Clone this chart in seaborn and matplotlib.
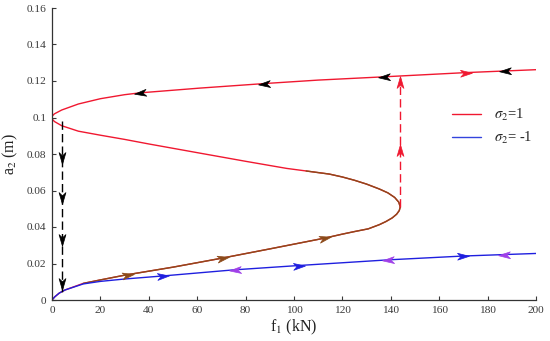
import numpy as np
import pandas as pd
import matplotlib
matplotlib.use('Agg')
import matplotlib.pyplot as plt
import seaborn as sns
from matplotlib.path import Path
from matplotlib.markers import MarkerStyle
from matplotlib.transforms import Affine2D

# sigma2 = 1 : lower branch, origin -> turning point
lower_f = [0, 1.2, 3, 5.4, 12.9, 20, 30, 50, 70.5, 90, 113, 120, 125, 130.7, 135.3,
           138, 140.6, 142.4, 143.5, 143.9]
lower_a = [0, 0.0018, 0.0038, 0.0055, 0.0091, 0.011, 0.0136, 0.0180, 0.023, 0.028,
           0.034, 0.0361, 0.0375, 0.039, 0.0413, 0.043, 0.045, 0.047, 0.049, 0.051]
# sigma2 = 1 : middle branch, turning point -> nose
middle_f = [143.9, 143.3, 141.6, 138.8, 135.3, 130, 125, 120, 114.6, 105, 97, 90, 80,
            61, 40, 30, 20, 10.9, 4, 1, 0.25, 0.05, 0]
middle_a = [0.051, 0.0536, 0.0562, 0.0587, 0.0608, 0.0635, 0.0656, 0.0674, 0.069,
            0.0707, 0.0721, 0.0737, 0.076, 0.0805, 0.0855, 0.088, 0.0903, 0.0925,
            0.0955, 0.0978, 0.0989, 0.0995, 0.1]
# sigma2 = 1 : upper branch, nose -> f = 200
upper_f = [0, 0.05, 0.25, 1, 4, 10.9, 20, 30, 36.3, 61, 87.8, 110, 137.3, 171, 200]
upper_a = [0.1, 0.1005, 0.101, 0.102, 0.1041, 0.1074, 0.1103, 0.1125, 0.1135, 0.1161,
           0.1186, 0.1205, 0.1223, 0.1246, 0.1262]
# sigma2 = -1
blue_f = [0, 1.2, 3, 5.4, 12.9, 20, 30, 46, 75, 102, 139, 170, 187, 200]
blue_a = [0, 0.0018, 0.0038, 0.0055, 0.0088, 0.0102, 0.0115, 0.0132, 0.0165, 0.0189,
          0.022, 0.0241, 0.0249, 0.0255]

# arrows along curves (f positions)
upper_left_f = [36.3, 87.8, 137.3, 187]
upper_right_f = [171]
lower_right_f = [31.5, 70.5, 113]
blue_right_f = [46, 102, 170]
blue_left_f = [75.5, 138.7, 186.8]
# jumps
jump_down_f, jump_down_a = 4, [0.098, 0.004]
jump_down_heads = [0.0776, 0.056, 0.033, 0.0085]
jump_up_f, jump_up_a = 144, [0.051, 0.1215]
jump_up_heads = [0.082, 0.1195]

xticks = [0, 20, 40, 60, 80, 100, 120, 140, 160, 180, 200]
yticks = [0, 0.02, 0.04, 0.06, 0.08, 0.1, 0.12, 0.14, 0.16]
ytick_labels = ['0', '0.02', '0.04', '0.06', '0.08', '0.1', '0.12', '0.14', '0.16']

RED = '#f01830'
BLUE = '#1f1fdf'
BROWN = '#8c4a1a'
PURPLE = '#a040e8'

sns.set_theme(style='white')
plt.rcParams['font.family'] = ['Liberation Serif', 'DejaVu Serif']
plt.rcParams['mathtext.fontset'] = 'stix'

fig = plt.figure(figsize=(5.5, 3.41), dpi=100)
ax = fig.add_axes([52 / 550, 1 - 300 / 341, 484 / 550, 292 / 341])

red_df = pd.DataFrame({'f': lower_f + middle_f[1:] + upper_f[1:],
                       'a': lower_a + middle_a[1:] + upper_a[1:]})
blue_df = pd.DataFrame({'f': blue_f, 'a': blue_a})
brown_df = pd.DataFrame({'f': [f for f in lower_f if f >= 8] + [f for f in middle_f[1:] if f >= 100],
                         'a': [a for f, a in zip(lower_f, lower_a) if f >= 8] +
                              [a for f, a in zip(middle_f[1:], middle_a[1:]) if f >= 100]})

sns.lineplot(data=red_df, x='f', y='a', sort=False, estimator=None, color=RED, lw=1, ax=ax)
sns.lineplot(data=brown_df, x='f', y='a', sort=False, estimator=None, color=BROWN, lw=1, ax=ax)
sns.lineplot(data=blue_df, x='f', y='a', sort=False, estimator=None, color=BLUE, lw=1, ax=ax)

ax.plot([jump_down_f] * 2, jump_down_a, color='black', ls=(0, (6, 3)), lw=1)
ax.plot([jump_up_f] * 2, jump_up_a, color=RED, ls=(0, (6, 3)), lw=1)

ax.set_xlim(0, 200)
ax.set_ylim(0, 0.16)
ax.set_xticks(xticks)
ax.set_xticklabels([str(t) for t in xticks])
ax.set_yticks(yticks)
ax.set_yticklabels(ytick_labels)
ax.tick_params(direction='in', length=3, width=0.8, labelsize=8.2, colors='#3a3a3a',
               bottom=True, left=True, pad=4)
sns.despine(ax=ax)
for s in ['left', 'bottom']:
    ax.spines[s].set_color('#333333')
    ax.spines[s].set_linewidth(0.9)
ax.set_xlabel('f$_1$ (kN)', fontsize=11.5, color='#222222', labelpad=2)
ax.set_ylabel('a$_2$ (m)', fontsize=11.5, color='#222222', labelpad=5)

head = Path([(0.5, 0), (-0.5, 0.29), (-0.22, 0), (-0.5, -0.29), (0.5, 0)],
            [Path.MOVETO, Path.LINETO, Path.LINETO, Path.LINETO, Path.CLOSEPOLY])


def draw_head(f, a, df, da, color):
    p0 = ax.transData.transform((f, a))
    p1 = ax.transData.transform((f + df, a + da))
    ang = np.degrees(np.arctan2(p1[1] - p0[1], p1[0] - p0[0]))
    m = MarkerStyle(head, transform=Affine2D().rotate_deg(ang))
    ax.plot(f, a, marker=m, ms=8.5, color=color, mec=color, mew=0.5, zorder=5)


def curve_heads(fs, xs, ys, direction, color):
    for f in fs:
        a = np.interp(f, xs, ys)
        a2 = np.interp(f + direction, xs, ys)
        draw_head(f, a, direction, a2 - a, color)


curve_heads(upper_left_f, upper_f, upper_a, -1, 'black')
curve_heads(upper_right_f, upper_f, upper_a, 1, RED)
curve_heads(lower_right_f, lower_f, lower_a, 1, BROWN)
curve_heads(blue_right_f, blue_f, blue_a, 1, BLUE)
curve_heads(blue_left_f, blue_f, blue_a, -1, PURPLE)
for a in jump_down_heads:
    draw_head(jump_down_f, a, 0, -0.001, 'black')
for a in jump_up_heads:
    draw_head(jump_up_f, a, 0, 0.001, RED)

handles = [plt.Line2D([], [], color=RED, lw=1), plt.Line2D([], [], color='#3344dd', lw=1)]
fig.legend(handles, [r'$\sigma_2$=1', r'$\sigma_2$= -1'], loc='upper left',
           bbox_to_anchor=(452 / 550, 1 - 107 / 341), frameon=False, fontsize=10.5,
           handlelength=2.0, handletextpad=0.9, labelspacing=0.45, borderpad=0,
           borderaxespad=0)

fig.savefig('out.png', dpi=100)
